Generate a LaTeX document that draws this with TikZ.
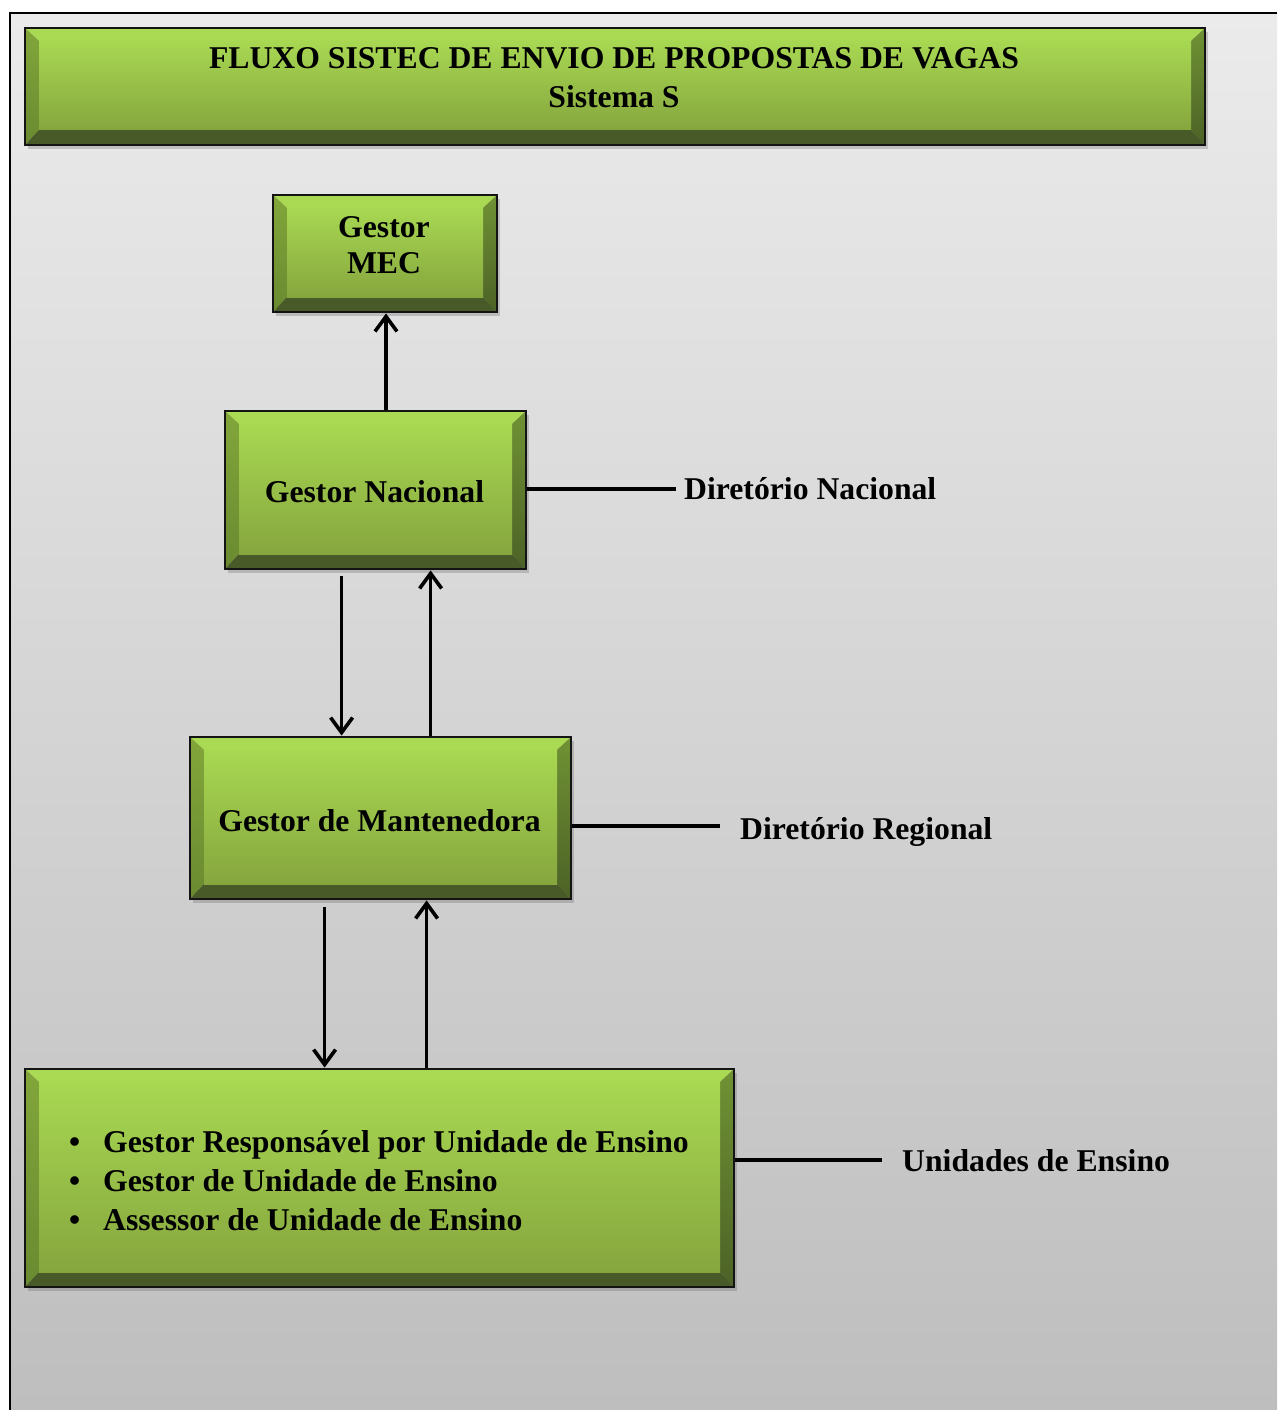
\documentclass[tikz,border=0pt]{standalone}
\usepackage{fontspec}
\setmainfont{Liberation Serif}
\usetikzlibrary{calc,arrows.meta,shadows}
\definecolor{bgT}{RGB}{235,235,235}
\definecolor{bgB}{RGB}{190,190,190}
\definecolor{bvTop}{RGB}{170,218,84}
\definecolor{bvLT}{RGB}{130,166,58}
\definecolor{bvLB}{RGB}{106,138,48}
\definecolor{bvRT}{RGB}{112,146,52}
\definecolor{bvRB}{RGB}{76,98,38}
\definecolor{bvBot}{RGB}{72,90,40}
\definecolor{faceT}{RGB}{168,216,82}
\definecolor{faceB}{RGB}{134,166,62}
\tikzset{
  bevelbox/.style={draw=black!92, line width=2.8pt, inner sep=0pt,
    drop shadow={shadow xshift=3pt, shadow yshift=-4pt, opacity=0.3, fill=black!60},
    path picture={
      \coordinate (pA) at (path picture bounding box.north west);
      \coordinate (pB) at (path picture bounding box.north east);
      \coordinate (pC) at (path picture bounding box.south east);
      \coordinate (pD) at (path picture bounding box.south west);
      \coordinate (qA) at ($(pA)+(14pt,-13pt)$);
      \coordinate (qB) at ($(pB)+(-14pt,-13pt)$);
      \coordinate (qC) at ($(pC)+(-14pt,15pt)$);
      \coordinate (qD) at ($(pD)+(14pt,15pt)$);
      \fill[bvTop] (pA)--(pB)--(qB)--(qA)--cycle;
      \shade[top color=bvLT,bottom color=bvLB] (pA)--(qA)--(qD)--(pD)--cycle;
      \shade[top color=bvRT,bottom color=bvRB] (pB)--(pC)--(qC)--(qB)--cycle;
      \fill[bvBot] (pD)--(qD)--(qC)--(pC)--cycle;
      \shade[top color=faceT,bottom color=faceB] (qA) rectangle (qC);
    }},
  txt/.style={inner sep=0pt, font=\bfseries\fontsize{31.7}{38}\selectfont},
  conn/.style={line width=3.3pt, black},
  arr/.style={conn, -{Straight Barb[length=15pt,width=22pt,line width=3.6pt]}}
}
\begin{document}
\begin{tikzpicture}[x=1pt,y=-1pt]
\useasboundingbox (0,0) rectangle (1277,1410);
\fill[white] (0,0) rectangle (1277,1410);
\shade[top color=bgT,bottom color=bgB] (10,13) rectangle (1277,1410);
\draw[line width=2pt] (10,1410) -- (10,13) -- (1277,13);

% boxes
\node[bevelbox, minimum width=1180pt, minimum height=117pt] (title) at (615,86.5) {};
\node[bevelbox, minimum width=224pt, minimum height=117pt] (mec) at (385,253.5) {};
\node[bevelbox, minimum width=301pt, minimum height=158pt] (nac) at (375.5,490) {};
\node[bevelbox, minimum width=381pt, minimum height=162pt] (man) at (380.5,818) {};
\node[bevelbox, minimum width=709pt, minimum height=218pt] (ue) at (379.5,1178) {};

% texts
\node[txt, anchor=base] (titleA) at (614,69) {FLUXO SISTEC DE ENVIO DE PROPOSTAS DE VAGAS};
\node[txt, anchor=base] (titleB) at (614,108) {Sistema S};
\node[txt, anchor=base] (mecA) at (384,237) {Gestor};
\node[txt, anchor=base] (mecB) at (384,273) {MEC};
\node[txt, anchor=base] (nacT) at (374.5,502) {Gestor Nacional};
\node[txt, anchor=base] (manT) at (379.5,831) {Gestor de Mantenedora};
\node[txt, anchor=base west] (ueA) at (103,1152) {\llap{•\hspace{23pt}}Gestor Responsável por Unidade de Ensino};
\node[txt, anchor=base west] (ueB) at (103,1191) {\llap{•\hspace{23pt}}Gestor de Unidade de Ensino};
\node[txt, anchor=base west] (ueC) at (103,1230) {\llap{•\hspace{23pt}}Assessor de Unidade de Ensino};

% side labels
\coordinate (dn) at (676,489);
\coordinate (dr) at (720,826);
\coordinate (du) at (882,1160);
\node[txt, anchor=base west] (dnT) at (684,499) {Diretório Nacional};
\node[txt, anchor=base west] (drT) at (740,839) {Diretório Regional};
\node[txt, anchor=base west] (duT) at (902,1171) {Unidades de Ensino};
\draw[conn] (nac.east |- dn) -- (dn);
\draw[conn] (man.east |- dr) -- (dr);
\draw[conn] (ue.east |- du) -- (du);

% arrows
\draw[arr] (nac.north -| 386,0) -- (mec.south -| 386,0);
\draw[arr] ([xshift=118pt,yshift=-6pt]nac.south west) -- ([xshift=118pt]nac.south west |- man.north);
\draw[arr] ([xshift=242pt]man.north west) -- ([xshift=242pt]man.north west |- nac.south);
\draw[arr] ([xshift=136pt,yshift=-7pt]man.south west) -- ([xshift=136pt]man.south west |- ue.north);
\draw[arr] ([xshift=403pt]ue.north west) -- ([xshift=403pt]ue.north west |- man.south);
\end{tikzpicture}
\end{document}
